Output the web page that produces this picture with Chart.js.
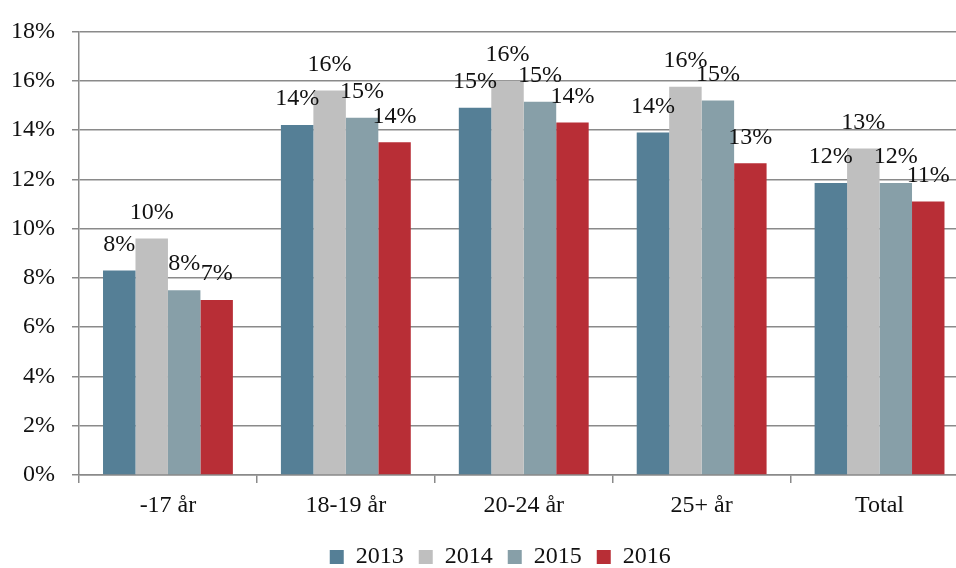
<!DOCTYPE html>
<html>
<head>
<meta charset="utf-8">
<script src="https://cdn.jsdelivr.net/npm/chart.js@4/dist/chart.umd.min.js"></script>
<style>
  html, body { margin: 0; padding: 0; background: #fff; overflow: hidden; }
  #wrap { width: 1000px; height: 568px; position: relative; }
</style>
</head>
<body>
<div id="wrap"><canvas id="c"></canvas></div>
<script>
const categories = ['-17 år', '18-19 år', '20-24 år', '25+ år', 'Total'];
const years = ['2013', '2014', '2015', '2016'];
const v2013 = [8.3, 14.2, 14.9, 13.9, 11.85];
const v2014 = [9.6, 15.6, 16.0, 15.75, 13.25];
const v2015 = [7.5, 14.5, 15.15, 15.2, 11.85];
const v2016 = [7.1, 13.5, 14.3, 12.65, 11.1];
const colors = ['#557f96', '#bfbfbf', '#879fa8', '#b82e36'];

const font = "'Liberation Serif', 'DejaVu Serif', serif";
const gridColor = '#8a8a8a';

// value labels above each bar, rounded to whole percent
const barLabels = {
    id: 'barLabels',
    afterDatasetsDraw(chart) {
        const ctx = chart.ctx;
        ctx.save();
        ctx.font = '24px ' + font;
        ctx.fillStyle = '#111';
        ctx.textAlign = 'center';
        ctx.textBaseline = 'middle';
        chart.data.datasets.forEach((ds, i) => {
            chart.getDatasetMeta(i).data.forEach((bar, j) => {
                ctx.fillText(Math.round(ds.data[j]) + '%', bar.x, bar.y - 26);
            });
        });
        ctx.restore();
    }
};

// nudge the legend to where the original sits
const legendShift = {
    id: 'legendShift',
    afterLayout(chart) {
        const lg = chart.legend;
        lg.left += 16; lg.right += 16;
        lg.top += 11; lg.bottom += 11;
    }
};

new Chart(document.getElementById('c'), {
    type: 'bar',
    data: {
        labels: categories,
        datasets: [v2013, v2014, v2015, v2016].map((d, i) => ({
            label: years[i],
            data: d,
            backgroundColor: colors[i],
            borderWidth: 0,
            categoryPercentage: 0.73,
            barPercentage: 1
        }))
    },
    options: {
        responsive: true,
        maintainAspectRatio: false,
        animation: false,
        layout: { padding: { left: 0, right: 31.5, top: 29, bottom: 0 } },
        plugins: {
            tooltip: { enabled: false },
            legend: {
                position: 'bottom',
                labels: {
                    font: { family: font, size: 24 },
                    color: '#111',
                    boxWidth: 14,
                    boxHeight: 14,
                    padding: 15
                }
            }
        },
        scales: {
            x: {
                afterFit(scale) { scale.height = 44; },
                grid: { display: true, drawOnChartArea: false, offset: true, color: gridColor, lineWidth: 1.5, tickLength: 8 },
                border: { color: gridColor, width: 1.5 },
                ticks: { font: { family: font, size: 24 }, color: '#111', padding: 8 }
            },
            y: {
                min: 0,
                max: 18,
                afterFit(scale) { scale.width = 79; },
                grid: { color: gridColor, lineWidth: 1.5, tickLength: 7 },
                border: { color: gridColor, width: 1.5 },
                ticks: {
                    stepSize: 2,
                    font: { family: font, size: 24 },
                    color: '#111',
                    padding: 17,
                    callback: v => v + '%'
                }
            }
        }
    },
    plugins: [barLabels, legendShift]
});
</script>
</body>
</html>
